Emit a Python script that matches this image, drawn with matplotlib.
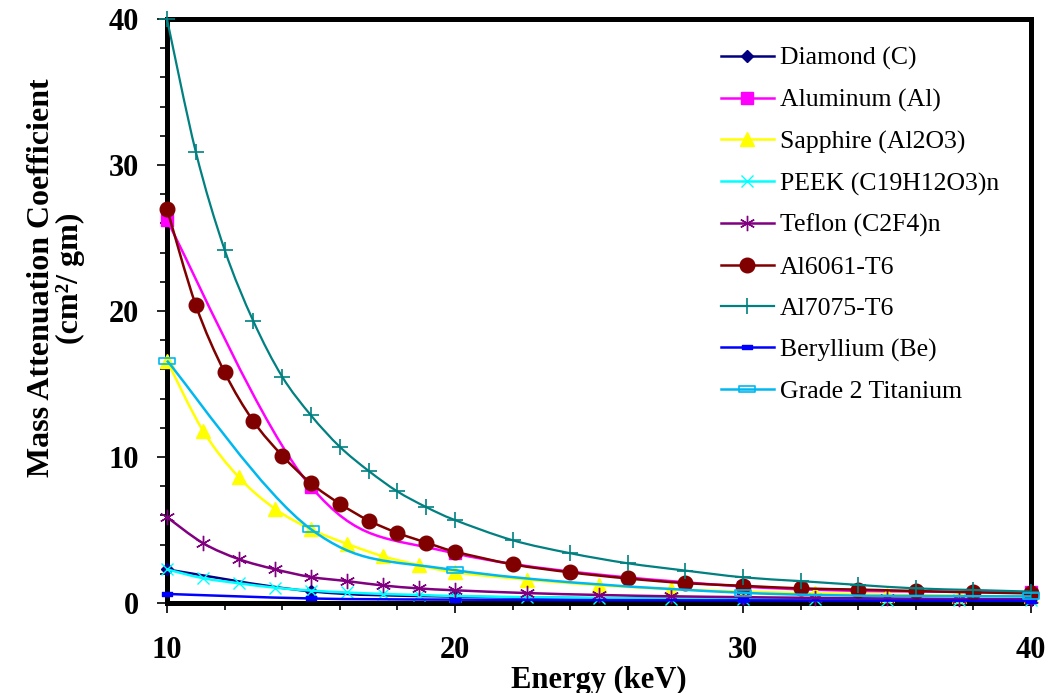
import numpy as np
import matplotlib
matplotlib.use("Agg")
import matplotlib.pyplot as plt
from matplotlib.path import Path
from matplotlib.patches import PathPatch
from matplotlib.lines import Line2D
from matplotlib.ticker import MultipleLocator

# --- data (energy in keV, mass attenuation in cm2/gm) ---
e_5 = [10, 15, 20, 30, 40]
e_sap = [10, 11.25, 12.5, 13.75, 15, 16.25, 17.5, 18.75, 20,
         22.5, 25, 27.5, 30, 32.5, 35, 37.5, 40]
e_al = [10, 11, 12, 13, 14, 15, 16, 17, 18, 19, 20,
        22, 24, 26, 28, 30, 32, 34, 36, 38, 40]

diamond = [2.3, 0.8, 0.44, 0.26, 0.21]
aluminum = [26.2, 7.96, 3.4, 1.13, 0.72]
sapphire = [16.6, 11.8, 8.6, 6.45, 5.05, 4.05, 3.2, 2.6, 2.1,
            1.6, 1.22, 0.95, 0.78, 0.66, 0.57, 0.5, 0.45]
peek = [2.3, 1.7, 1.35, 1.05, 0.85, 0.72, 0.62, 0.55, 0.48,
        0.4, 0.34, 0.3, 0.27, 0.25, 0.23, 0.22, 0.21]
teflon = [5.88, 4.1, 3.0, 2.31, 1.78, 1.5, 1.2, 1.0, 0.87,
          0.68, 0.55, 0.46, 0.4, 0.35, 0.31, 0.28, 0.26]
al6061 = [27.0, 20.4, 15.8, 12.45, 10.1, 8.2, 6.8, 5.65, 4.8, 4.14, 3.52,
          2.65, 2.1, 1.68, 1.36, 1.18, 1.0, 0.92, 0.82, 0.73, 0.66]
al7075 = [40.0, 30.9, 24.2, 19.3, 15.5, 12.85, 10.7, 9.05, 7.64, 6.57, 5.68,
          4.3, 3.41, 2.72, 2.22, 1.76, 1.5, 1.24, 1.0, 0.89, 0.78]
beryllium = [0.62, 0.31, 0.23, 0.18, 0.16]
titanium = [16.6, 5.05, 2.25, 0.7, 0.45]

labels = ['Diamond (C)', 'Aluminum (Al)', 'Sapphire (Al2O3)',
          'PEEK (C19H12O3)n', 'Teflon (C2F4)n', 'Al6061-T6', 'Al7075-T6',
          'Beryllium (Be)', 'Grade 2 Titanium']

SERIF = 'Liberation Serif'

# custom flat rectangle markers (Excel "dash")
dash = Path([(-1, -0.35), (1, -0.35), (1, 0.35), (-1, 0.35), (-1, -0.35)],
            [Path.MOVETO, Path.LINETO, Path.LINETO, Path.LINETO, Path.CLOSEPOLY])

styles = [
    # x, y, color, marker, size, face, mew, lw
    (e_5, diamond, '#000080', 'D', 6.5, '#000080', 1, 1.8),
    (e_5, aluminum, '#FF00FF', 's', 9, '#FF00FF', 1, 1.8),
    (e_sap, sapphire, '#FFFF00', '^', 10, '#FFFF00', 1, 1.8),
    (e_sap, peek, '#00FFFF', 'x', 9, '#00FFFF', 1.0, 1.8),
    (e_sap, teflon, '#800080', (6, 2, 0), 11, '#800080', 1.0, 1.8),
    (e_al, al6061, '#800000', 'o', 10.5, '#800000', 1, 1.8),
    (e_al, al7075, '#008080', '+', 11, '#008080', 1.2, 1.6),
    (e_5, beryllium, '#0000FF', dash, 7, '#0000FF', 1, 1.8),
    (e_5, titanium, '#00B8F0', dash, 11, 'none', 1.2, 1.8),
]


def smooth_path(x, y):
    '''Excel-like smoothed line: cubic Bezier through the points.'''
    pts = np.column_stack([x, y]).astype(float)
    ext = np.vstack([pts[0], pts, pts[-1]])
    verts = [pts[0]]
    codes = [Path.MOVETO]
    for i in range(len(pts) - 1):
        p0, p1, p2, p3 = ext[i], ext[i + 1], ext[i + 2], ext[i + 3]
        verts += [p1 + (p2 - p0) / 6, p2 - (p3 - p1) / 6, p2]
        codes += [Path.CURVE4] * 3
    return Path(verts, codes)


fig = plt.figure(figsize=(10.53, 6.93), dpi=100)
ax = fig.add_axes([167 / 1053, 1 - 603 / 693, 864 / 1053, 584 / 693])

handles = []
for k, (x, y, c, m, ms, fc, mew, lw) in enumerate(styles):
    z = 3 + k * 0.1
    ax.add_patch(PathPatch(smooth_path(x, y), fill=False, edgecolor=c,
                           lw=lw, zorder=z, clip_on=False))
    ax.plot(x, y, linestyle='none', marker=m, markersize=ms, color=c,
            markerfacecolor=fc, markeredgecolor=c, markeredgewidth=mew,
            zorder=z + 0.05, clip_on=False)
    handles.append(Line2D([], [], color=c, lw=lw, marker=m, markersize=ms,
                          markerfacecolor=fc, markeredgecolor=c,
                          markeredgewidth=mew))

ax.set_xlim(10, 40)
ax.set_ylim(0, 40)
ax.xaxis.set_major_locator(MultipleLocator(10))
ax.xaxis.set_minor_locator(MultipleLocator(2))
ax.yaxis.set_major_locator(MultipleLocator(10))
ax.yaxis.set_minor_locator(MultipleLocator(2))
ax.tick_params(which='major', direction='out', length=7, width=1.2,
               color='black', pad=13)
ax.tick_params(axis='x', which='major', pad=17)
ax.tick_params(which='minor', direction='out', length=5, width=1.2,
               color='black')
for lab in ax.get_xticklabels() + ax.get_yticklabels():
    lab.set_fontfamily(SERIF)
    lab.set_fontweight('bold')
    lab.set_fontsize(22)
for sp in ax.spines.values():
    sp.set_linewidth(3.6)
    sp.set_zorder(2.5)

fig.text(599 / 1053, 1 - 688 / 693, 'Energy (keV)', ha='center',
         va='baseline', family=SERIF, weight='bold', size=22)
fig.text(56 / 1053, 1 - 278 / 693, 'Mass Attenuation Coefficient\n(cm\u00b2/ gm)',
         rotation=90, ha='center', va='center', multialignment='center',
         family=SERIF, weight='bold', size=23, linespacing=1.0)

fig.legend(handles, labels, loc='upper left',
           bbox_to_anchor=(708 / 1053, 1 - 34 / 693), frameon=False,
           borderpad=0, handlelength=2.05, handletextpad=0.25,
           labelspacing=0.715, prop={'family': SERIF, 'size': 18.5})

fig.savefig('out.png', dpi=100)
